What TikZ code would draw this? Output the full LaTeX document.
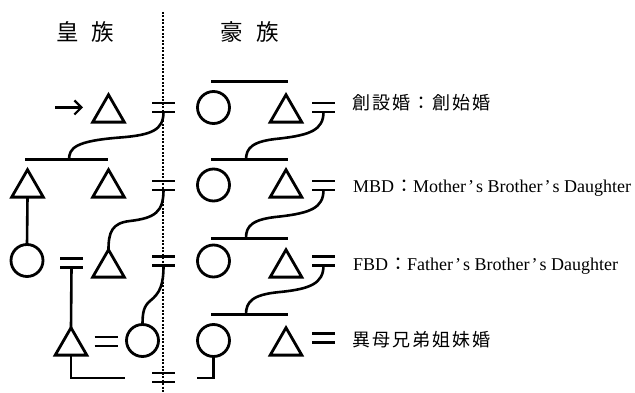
\documentclass[tikz,border=0pt]{standalone}
\usepackage{fontspec}
\setmainfont{Liberation Serif}
\newfontfamily\jp{Noto Sans CJK JP}
\newfontfamily\jpsp[LetterSpace=11]{Noto Sans CJK JP}
\usetikzlibrary{shapes.geometric,arrows.meta}
\newcommand{\apos}{\hspace{2pt}’\hspace{2pt}}
\begin{document}
\begin{tikzpicture}[x=1pt,y=-1pt,
  shp/.style={draw,line width=2.8pt,inner sep=0pt,outer sep=0pt},
  tri/.style={shp,regular polygon,regular polygon sides=3,minimum size=36.5pt},
  circ/.style={shp,circle,minimum size=32pt},
  ln/.style={line width=2.6pt},
  barline/.style={line width=3pt},
  eqs/.pic={\draw[line width=2.8pt] (-11.5,-4.5) -- (11.5,-4.5) (-11.5,4.5) -- (11.5,4.5); \coordinate (-b) at (0,4.5);},
  title/.style={anchor=base,inner sep=0pt,font=\jp\fontsize{22.5}{24}\selectfont},
  cjklbl/.style={anchor=base west,inner sep=0pt,font=\jpsp\fontsize{18}{20}\selectfont},
  latlbl/.style={anchor=base west,inner sep=0pt,font=\fontsize{18}{20}\selectfont},
]
\useasboundingbox (0,0) rectangle (635,393);
% divider
\coordinate (dtop) at (163,12);
\coordinate (dbot) at (163,393);
\draw[line width=1.3pt,dash pattern=on 2pt off 1.5pt] (dtop) -- (dbot);
% titles
\node[title] (h1) at (85.5,40.4) {皇\hspace{12.5pt}族};
\node[title] (h2) at (250,40.4) {豪\hspace{13.5pt}族};
% row 1
\coordinate (aS) at (55,107.5);
\coordinate (aE) at (83,107.5);
\draw[line width=2.2pt,-{Straight Barb[length=7pt,width=14pt]}] (aS) -- (aE);
\node[tri] (t11) at (108.5,113) {};
\pic (e11) at (163.5,107.5) {eqs};
\node[circ] (c12) at (213.5,107.5) {};
\node[tri] (t13) at (286,113) {};
\pic (e13) at (323.5,107.5) {eqs};
\coordinate (b1a) at (211,82); \coordinate (b1b) at (288,82);
\draw[barline] (b1a) -- (b1b);
% row 2
\coordinate (b2a) at (25,160); \coordinate (b2b) at (108,160); \coordinate (b2m) at (69,160);
\draw[barline] (b2a) -- (b2b);
\node[tri] (t21) at (27.5,188) {};
\node[tri] (t22) at (108.5,188) {};
\pic (e21) at (163.5,185.5) {eqs};
\node[circ] (c22) at (213.5,185) {};
\node[tri] (t23) at (286,188) {};
\pic (e23) at (323.5,185.5) {eqs};
\coordinate (b3a) at (211,160); \coordinate (b3b) at (288,160); \coordinate (b3m) at (246,160);
\draw[barline] (b3a) -- (b3b);
% row 3
\node[circ] (c31) at (27,260.5) {};
\pic (e31) at (71.5,263) {eqs};
\node[tri] (t32) at (108.5,268) {};
\pic (e32) at (163.5,261) {eqs};
\node[circ] (c33) at (213.5,261) {};
\node[tri] (t34) at (286,268) {};
\pic (e34) at (323.5,261) {eqs};
\coordinate (b4a) at (211,238); \coordinate (b4b) at (288,238); \coordinate (b4m) at (246,238);
\draw[barline] (b4a) -- (b4b);
% row 4
\node[tri] (t41) at (71,346) {};
\pic (e41) at (106,341.5) {eqs};
\node[circ] (c42) at (142.5,340.5) {};
\node[circ] (c43) at (213.5,340.5) {};
\node[tri] (t44) at (286,346) {};
\pic (e44) at (323.5,338) {eqs};
\coordinate (b5a) at (211,314.5); \coordinate (b5b) at (288,314.5); \coordinate (b5m) at (246,314.5);
\draw[barline] (b5a) -- (b5b);
% bottom
\pic (e51) at (163.5,377.5) {eqs};
\coordinate (bl) at (125,378);
\coordinate (br) at (197,378);
\draw[ln] (t41.south) |- (bl);
\draw[ln] (c43.south) |- (br);
% vertical links
\draw[ln] (t21.south) -- (c31.north);
\draw[ln] (e31-b) -- (t41.corner 1);
% curves left
\draw[ln] (e11-b) .. controls (163.5,130) and (152,135) .. (120,137.5) .. controls (75,141) and (69,148) .. (b2m);
\draw[ln] (e21-b) .. controls (163.5,212) and (155,218) .. (130,221) .. controls (112,223) and (108.5,232) .. (t32.corner 1);
\draw[ln] (e32-b) .. controls (163.5,285) and (160,293) .. (150,301) .. controls (144,306) and (142.5,312) .. (c42.north);
% curves right
\draw[ln] (e13-b) .. controls (323.5,130) and (310,135) .. (280,138.5) .. controls (252,141) and (246,148) .. (b3m);
\draw[ln] (e23-b) .. controls (323.5,208) and (310,213) .. (280,216.5) .. controls (252,219) and (246,226) .. (b4m);
\draw[ln] (e34-b) .. controls (323.5,283.5) and (310,289) .. (280,292) .. controls (252,294.5) and (246,302) .. (b5m);
% labels
\node[cjklbl] (l1) at (352,109.5) {創設婚：創始婚};
\node[latlbl] (l2) at (353,192.5) {MBD{\jp\hspace{1pt}：}Mother\apos s Brother\apos s Daughter};
\node[latlbl] (l3) at (353,270.5) {FBD{\jp\hspace{1pt}：}Father\apos s Brother\apos s Daughter};
\node[cjklbl] (l4) at (352,346.7) {異母兄弟姐妹婚};
\end{tikzpicture}
\end{document}
